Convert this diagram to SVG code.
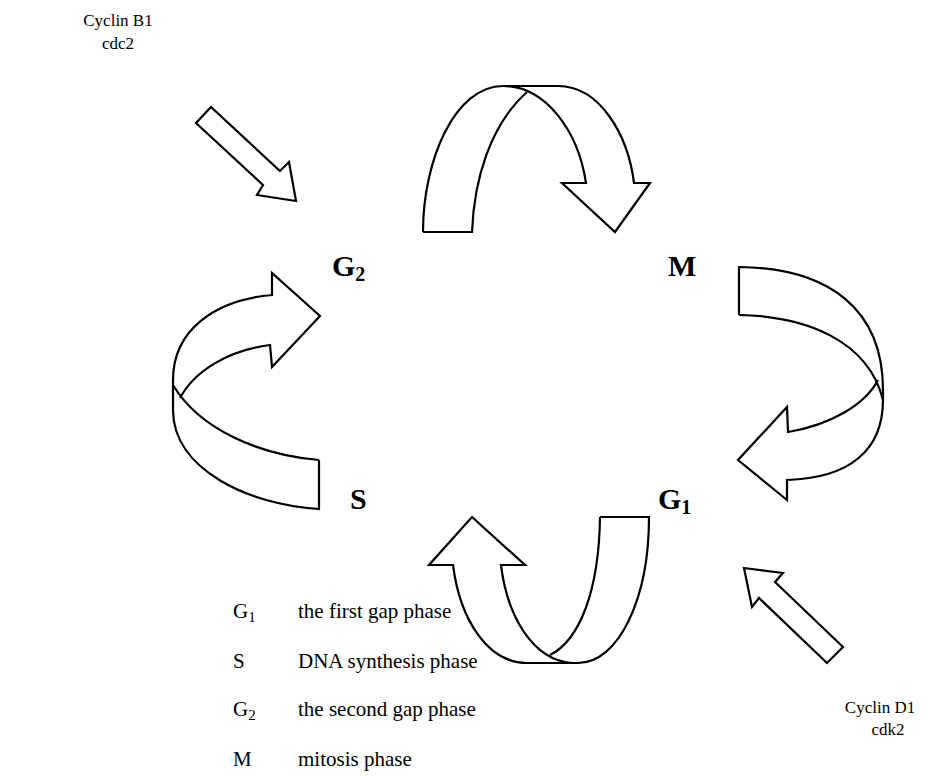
<svg xmlns="http://www.w3.org/2000/svg" width="937" height="776" viewBox="0 0 937 776">
<style>
.a{fill:#fff;stroke:#000;stroke-width:2.2;stroke-linejoin:miter}
.l{fill:none;stroke:#000;stroke-width:2.2}
.t{font-family:"Liberation Serif","Times New Roman",serif;fill:#000}
.sm{font-size:17px}
.ph{font-size:30px;font-weight:bold}
.sub{font-size:20px;font-weight:bold}
.lg{font-size:21px}
.lgs{font-size:15px}
</style>
<rect width="937" height="776" fill="#fff"/>
<g id="connectors">
  <g id="arc-g2-m">
    <path class="a" d="M423,232 C423,160 455,86 503,86 L558,86 C600,86 628,135 634,183 L650,183 L615,232 L562,183 L586,183 C578,130 545,86 503,86"/>
    <path class="l" d="M423,232 L472,232 C474,180 490,125 527,92"/>
  </g>
  <g id="arc-m-g1">
    <path class="a" d="M739,315 L739,267 C830,268 883,310 883,390 L883,400 C883,450 850,478 787,480 L787,500 L738,460 L787,407 L788,432 C830,425 865,405 878,380"/>
    <path class="l" d="M739,315 C805,316 868,340 883,400"/>
  </g>
  <g id="arc-g1-s">
    <path class="a" d="M600,517 L649,517 C649,600 618,663 578,663 L527,663 C488,663 460,620 453,565 L429,565 L472,517 L525,565 L501,565 C507,615 532,660 572,663"/>
    <path class="l" d="M600,517 C599,590 580,640 550,655"/>
  </g>
  <g id="arc-s-g2">
    <path class="a" d="M319,460 L319,509 C250,505 173,470 173,410 L173,380 C173,330 215,300 272,295 L272,273 L320,316 L272,367 L270,345 C230,350 195,370 180,398"/>
    <path class="l" d="M319,460 C260,455 200,430 173,385"/>
  </g>
  <polygon id="arrow-b1" class="a" points="211,107 196,123 263,185 257,195 296,201 289,162 280,171"/>
  <polygon id="arrow-d1" class="a" points="744,568 783,573 775,582 843,647 827,663 759,598 752,607"/>
</g>
<g id="node-cyclinB1">
  <text class="t sm" x="118" y="26" text-anchor="middle">Cyclin B1</text>
  <text class="t sm" x="118" y="49" text-anchor="middle">cdc2</text>
</g>
<g id="node-cyclinD1">
  <text class="t sm" x="880" y="713" text-anchor="middle">Cyclin D1</text>
  <text class="t sm" x="888" y="735" text-anchor="middle">cdk2</text>
</g>
<g id="node-G2"><text class="t ph" x="332" y="276">G<tspan class="sub" dy="5">2</tspan></text></g>
<g id="node-M"><text class="t ph" x="668" y="276">M</text></g>
<g id="node-S"><text class="t ph" x="350" y="509">S</text></g>
<g id="node-G1"><text class="t ph" x="658" y="509">G<tspan class="sub" dy="5">1</tspan></text></g>
<g id="legend">
  <text class="t lg" x="233" y="618">G<tspan class="lgs" dy="4">1</tspan></text>
  <text class="t lg" x="298" y="618">the first gap phase</text>
  <text class="t lg" x="233" y="668">S</text>
  <text class="t lg" x="298" y="668">DNA synthesis phase</text>
  <text class="t lg" x="233" y="716">G<tspan class="lgs" dy="4">2</tspan></text>
  <text class="t lg" x="298" y="716">the second gap phase</text>
  <text class="t lg" x="233" y="766">M</text>
  <text class="t lg" x="298" y="766">mitosis phase</text>
</g>
</svg>
